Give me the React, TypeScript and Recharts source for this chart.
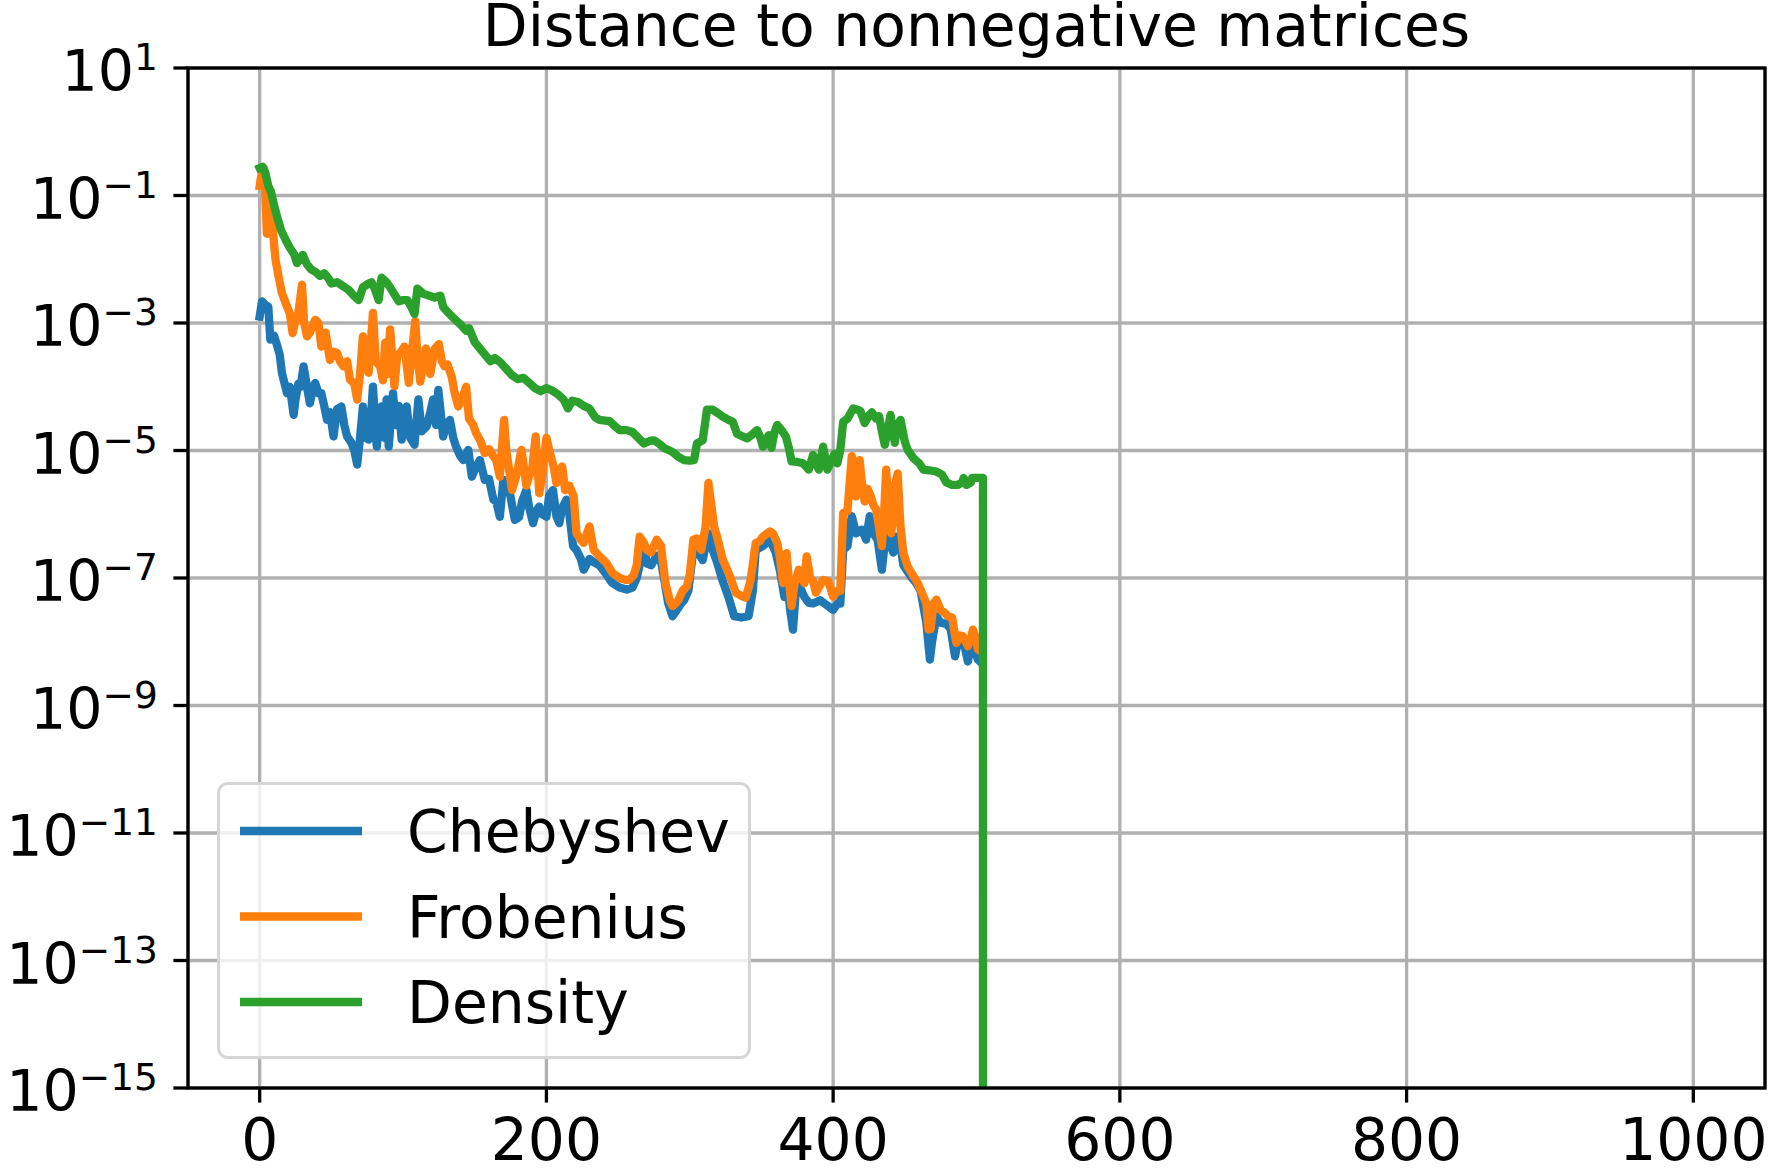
import React from 'react';
import { LineChart, Line, XAxis, YAxis, CartesianGrid } from 'recharts';

const FONT = '"DejaVu Sans", sans-serif';
const TITLE = 'Distance to nonnegative matrices';

const seriesNames = ['Chebyshev', 'Frobenius', 'Density'];
const seriesColors = ['#1f77b4', '#ff7f0e', '#2ca02c'];

const xTicks = [0, 200, 400, 600, 800, 1000];
const yTickExponents = [1, -1, -3, -5, -7, -9, -11, -13, -15];

// [iteration, log10(distance)]
const chebyshevPoints: [number, number][] = [
  [0, -2.9], [1.6, -2.66], [4, -2.72], [6, -2.74], [7.4, -3.26], [10, -3.2], [12, -3.34], [14, -3.5],
  [15.5, -3.78], [19, -4.1], [21, -4.0], [23.7, -4.44], [25, -4.2], [27, -3.95], [28.5, -4.0], [30.6, -3.68],
  [33, -4.0], [35, -4.26], [37, -4.05], [38.7, -3.94], [41, -4.1], [43, -4.1], [45, -4.3], [47, -4.52],
  [49, -4.4], [51.5, -4.78], [54, -4.35], [57, -4.31], [59, -4.6], [61, -4.78], [64, -4.88], [66, -5.0],
  [68, -5.22], [70, -4.8], [72, -4.31], [74, -4.8], [76, -4.83], [77.5, -4.5], [79, -4.0], [81.7, -4.94],
  [83.5, -4.5], [85, -4.31], [87, -4.8], [88.5, -4.2], [90, -4.94], [93, -4.1], [95, -4.6], [97, -4.3],
  [99, -4.83], [101, -4.5], [102.5, -4.31], [105, -4.8], [108, -4.91], [110.7, -4.2], [113, -4.7], [116.5, -4.62],
  [119, -4.4], [121, -4.2], [123, -4.6], [124.6, -4.05], [128, -4.78], [130, -4.6], [132.7, -4.52], [135, -4.8],
  [137, -4.94], [140, -5.09], [142, -5.15], [145.5, -4.99], [148, -5.41], [150, -5.3], [153.6, -5.15], [157, -5.46],
  [160, -5.45], [163, -5.77], [165, -5.8], [167.5, -6.04], [170, -5.46], [172, -5.6], [174.5, -5.67], [178, -6.09],
  [181, -6.04], [183, -5.8], [186, -5.62], [188, -5.9], [190.7, -6.14], [193, -5.95], [195, -5.88], [197, -6.0],
  [200, -6.04], [202, -5.7], [204.6, -5.62], [207, -6.03], [209, -6.14], [211, -5.9], [214, -5.77], [216, -6.0],
  [218.6, -6.5], [221, -6.56], [224, -6.7], [226, -6.87], [230, -6.7], [233, -6.75], [237, -6.8], [242, -6.95],
  [246, -7.08], [251, -7.15], [256, -7.18], [260, -7.15], [263, -7.0], [265, -6.8], [268, -6.5], [270, -6.77],
  [273, -6.8], [277, -6.65], [280, -6.75], [282, -7.0], [285, -7.4], [288, -7.6], [291, -7.5], [294, -7.4],
  [296, -7.35], [299, -7.2], [302.5, -6.56], [306, -6.6], [309, -6.72], [311, -6.5], [313, -6.3], [315, -6.5],
  [319, -6.75], [323, -7.05], [327, -7.3], [331, -7.6], [336, -7.62], [341, -7.6], [344, -7.2], [346, -6.56],
  [351, -6.5], [356, -6.4], [360, -6.6], [363, -6.9], [366, -7.3], [368, -7.0], [370, -7.5], [372, -7.81],
  [374, -7.2], [376, -7.1], [380, -7.3], [383, -7.39], [386, -7.4], [388, -7.38], [391, -7.35], [394, -7.4],
  [397, -7.45], [400, -7.5], [403, -7.4], [405, -7.4], [407, -6.56], [410, -6.5], [413, -6.03], [416, -6.3],
  [420, -6.24], [423, -6.4], [425.5, -6.03], [428, -6.3], [431, -6.4], [434, -6.87], [437, -6.25], [440, -6.5],
  [442, -6.6], [444, -6.35], [447, -6.5], [449, -6.8], [452, -6.9], [455, -7.0], [458, -7.08], [461, -7.2],
  [463, -7.45], [465, -7.7], [467.5, -8.28], [469, -8.0], [472, -7.6], [475, -7.7], [479, -7.72], [482, -7.8],
  [485, -8.23], [487, -8.0], [490.6, -8.05], [492, -8.1], [494, -8.31], [496, -8.05], [497.5, -8.02], [499, -8.15],
  [501, -8.28], [503, -8.32],
];

const frobeniusPoints: [number, number][] = [
  [0, -0.85], [1, -0.7], [3, -0.57], [4, -1.0], [5, -1.6], [7, -1.22], [9, -1.5], [11, -2.0],
  [13, -2.25], [15.5, -2.53], [19, -2.74], [21, -2.85], [23, -3.16], [25, -2.95], [27, -2.84], [29.5, -2.4],
  [31, -3.0], [33, -3.21], [35, -3.15], [38.7, -2.95], [41, -3.0], [43, -3.37], [46, -3.15], [49, -3.58],
  [52, -3.45], [54, -3.47], [56, -3.6], [58.5, -3.68], [61, -3.6], [63, -3.89], [66, -3.95], [68, -4.2],
  [70, -3.8], [72, -3.21], [74, -3.6], [76, -3.78], [79, -2.84], [81, -3.6], [84, -3.68], [86, -3.9],
  [87.5, -3.31], [89, -3.8], [91, -3.1], [94, -3.99], [96, -3.5], [98, -3.47], [101, -3.37], [104, -3.94],
  [106, -3.5], [108.5, -2.97], [110, -3.5], [112, -3.92], [116, -3.4], [119, -3.8], [122, -3.41], [125, -3.33],
  [127, -3.6], [129, -3.68], [131, -3.65], [134, -3.85], [136, -4.1], [138.5, -4.31], [141, -4.2], [144, -4.0],
  [146, -4.5], [149, -4.6], [151, -4.73], [154, -4.85], [157, -5.04], [160, -4.98], [163, -5.09], [165, -5.15],
  [167.5, -5.41], [170.5, -4.52], [172, -5.0], [174, -5.3], [176, -5.62], [179, -5.4], [182.6, -4.99], [184, -5.2],
  [186, -5.55], [188, -5.4], [190, -5.3], [192.5, -4.78], [195, -5.67], [197, -5.4], [200, -4.8], [202, -5.0],
  [205, -5.25], [207, -5.51], [209, -5.41], [211, -5.25], [213, -5.62], [216, -5.55], [219, -5.72], [221, -6.3],
  [224, -6.4], [226, -6.45], [230, -6.19], [233, -6.56], [237, -6.66], [242, -6.77], [246, -6.92], [251, -7.0],
  [255, -7.03], [258, -7.03], [261, -6.95], [263, -6.8], [265, -6.35], [268, -6.45], [270, -6.56], [273, -6.6],
  [275, -6.5], [277, -6.4], [280, -6.5], [281, -6.7], [283, -7.08], [286, -7.35], [288, -7.44], [290, -7.4],
  [292, -7.35], [295, -7.2], [298, -7.13], [300, -6.95], [302.5, -6.4], [305, -6.38], [306, -6.45], [308, -6.56],
  [311, -6.2], [313, -5.51], [315, -5.85], [317, -6.2], [319, -6.35], [323, -6.71], [328, -6.97], [332, -7.23],
  [336, -7.28], [339, -7.31], [342.5, -7.03], [346, -6.45], [349, -6.42], [351, -6.35], [356, -6.27], [358, -6.3],
  [361, -6.45], [363, -6.7], [365, -7.08], [367.5, -6.61], [369, -7.0], [371, -7.44], [373, -7.1], [376, -6.87],
  [378, -7.0], [380, -7.08], [381.5, -6.66], [384, -7.0], [386, -7.05], [388, -7.23], [390, -7.15], [393, -7.03],
  [396.5, -7.05], [398, -7.15], [400, -7.29], [403, -7.2], [405, -7.2], [407, -5.98], [410, -5.95], [413, -5.09],
  [416, -5.72], [418.5, -5.15], [420, -5.5], [422, -5.8], [424, -5.6], [426, -5.7], [428, -5.85], [430, -5.93],
  [432, -6.2], [434, -6.5], [435.5, -6.0], [437, -5.3], [439, -6.0], [440.5, -6.3], [442, -6.0], [443.5, -5.5],
  [445, -5.36], [447, -6.2], [449, -6.61], [452, -6.82], [456, -6.97], [459, -7.08], [463, -7.29], [465, -7.4],
  [466.5, -7.81], [468, -7.8], [470, -7.4], [472, -7.34], [475, -7.5], [478, -7.55], [480, -7.6], [483, -7.62],
  [485, -7.9], [486, -8.02], [488, -7.9], [490.5, -7.91], [494, -8.07], [496, -7.95], [497.5, -7.81], [499, -7.9],
  [501, -8.12], [503, -8.15],
];

// the last point is zero (log -> -inf), drawn as a drop off the bottom of the axes
const densityPoints: [number, number][] = [
  [0, -0.57], [2, -0.55], [4, -0.65], [6, -0.85], [8, -0.95], [10, -1.15], [12, -1.32], [15, -1.55],
  [18, -1.69], [21, -1.82], [24, -1.92], [26, -2.06], [28, -2.0], [30, -1.93], [33, -2.08], [36, -2.16],
  [39, -2.2], [42, -2.26], [45, -2.22], [48, -2.3], [50, -2.38], [54, -2.36], [58, -2.42], [62, -2.48],
  [66, -2.58], [69, -2.64], [72, -2.44], [76, -2.38], [78, -2.36], [80, -2.45], [83, -2.64], [85, -2.29],
  [88, -2.35], [91, -2.44], [94, -2.55], [97, -2.66], [100, -2.64], [103, -2.64], [106, -2.76], [108, -2.86],
  [110, -2.46], [114, -2.54], [118, -2.57], [122, -2.6], [126, -2.57], [128, -2.75], [132, -2.85], [136, -2.94],
  [140, -3.02], [144, -3.12], [146, -3.08], [150, -3.3], [154, -3.41], [158, -3.52], [161, -3.6], [164, -3.55],
  [168, -3.62], [172, -3.72], [176, -3.82], [180, -3.88], [184, -3.86], [188, -3.94], [192, -4.02], [196, -4.07],
  [200, -4.02], [204, -4.06], [208, -4.12], [212, -4.2], [215, -4.34], [218, -4.22], [222, -4.24], [226, -4.3],
  [230, -4.34], [234, -4.48], [237, -4.52], [241, -4.53], [244, -4.54], [248, -4.62], [251, -4.68], [256, -4.68],
  [260, -4.71], [264, -4.8], [268, -4.89], [272, -4.85], [275, -4.84], [279, -4.9], [282, -4.96], [286, -5.0],
  [289, -5.04], [292, -5.1], [296, -5.15], [300, -5.16], [303, -5.15], [305, -4.89], [309, -4.84], [312, -4.36],
  [316, -4.36], [320, -4.42], [323, -4.47], [327, -4.52], [330, -4.55], [333, -4.74], [337, -4.78], [340, -4.81],
  [344, -4.74], [347, -4.68], [349, -4.78], [351, -4.94], [353, -4.88], [355, -4.76], [357, -4.96], [359, -4.72],
  [361, -4.6], [364, -4.68], [367, -4.78], [369, -4.95], [371, -5.17], [375, -5.18], [379, -5.2], [383, -5.3],
  [386, -5.07], [388, -5.2], [390, -5.3], [393, -4.94], [396, -5.3], [398, -5.2], [401, -5.05], [403, -5.2],
  [405, -4.99], [407, -4.55], [410, -4.5], [412, -4.42], [414, -4.34], [417, -4.36], [419, -4.38], [422, -4.57],
  [425, -4.45], [427, -4.4], [430, -4.5], [432, -4.46], [434, -4.7], [436, -4.91], [438, -4.7], [440, -4.44],
  [443, -4.88], [445, -4.6], [447, -4.52], [450, -4.86], [452, -4.99], [456, -5.12], [460, -5.2], [463, -5.3],
  [467, -5.31], [472, -5.33], [476, -5.38], [479, -5.5], [483, -5.54], [487, -5.54], [490, -5.5], [491, -5.43],
  [493, -5.54], [496, -5.5], [497, -5.43], [500, -5.43], [503, -5.43], [504.5, -5.43], [504.6, -40],
];

const allPoints = [chebyshevPoints, frobeniusPoints, densityPoints];

const toRows = (pts: [number, number][]) => pts.map(([x, lg]) => ({ x, y: Math.pow(10, lg) }));

// layout (pixels)
const W = 1768;
const H = 1174;
const PLOT_LEFT = 188;
const PLOT_TOP = 68;
const PLOT_RIGHT = 1765;
const PLOT_BOTTOM = 1088;
const FS = 58.3;
const Y_FS = 57;
const SUP_FS = 37.5;
const THIN = 3.3;
const TICK_LEN = 14.6;

const YTick = (props: any) => {
  const { x, y, payload } = props;
  const e = Math.round(Math.log10(payload.value));
  const sup = (e < 0 ? '\u2212' : '') + Math.abs(e);
  return (
    <text x={x} y={y} dy={23} textAnchor="end" fontSize={Y_FS} fontFamily={FONT} fill="#000">
      10<tspan dy={-21} fontSize={SUP_FS}>{sup}</tspan>
    </text>
  );
};

const XTick = (props: any) => {
  const { x, y, payload } = props;
  return (
    <text x={x} y={y} dy={57.5} textAnchor="middle" fontSize={FS} fontFamily={FONT} fill="#000">
      {payload.value}
    </text>
  );
};

const LegendBox = () => (
  <div
    style={{
      position: 'absolute',
      left: 217,
      top: 782,
      width: 534,
      height: 277,
      boxSizing: 'border-box',
      border: `${THIN}px solid #d6d6d6`,
      borderRadius: 11,
      background: 'rgba(255,255,255,0.8)',
    }}
  >
    <svg width={528} height={271} style={{ position: 'absolute', left: 0, top: 0, overflow: 'visible' }}>
      {seriesNames.map((name, i) => (
        <g key={name}>
          <line x1={20} x2={142} y1={46 + i * 85.5} y2={46 + i * 85.5} stroke={seriesColors[i]} strokeWidth={8.3} />
          <text x={187} y={67 + i * 85.5} fontSize={FS} fontFamily={FONT} fill="#000">
            {name}
          </text>
        </g>
      ))}
    </svg>
  </div>
);

export default function App() {
  return (
    <div style={{ position: 'absolute', left: 0, top: 0, width: W, height: H, background: '#fff' }}>
      <LineChart width={W} height={H} margin={{ top: PLOT_TOP, right: W - PLOT_RIGHT, bottom: 0, left: 0 }}>
        <CartesianGrid stroke="#b0b0b0" strokeWidth={THIN} />
        <XAxis
          dataKey="x"
          type="number"
          domain={[-50, 1050]}
          ticks={xTicks}
          interval={0}
          height={H - PLOT_BOTTOM}
          axisLine={false}
          tickLine={{ stroke: '#000', strokeWidth: THIN }}
          tickSize={TICK_LEN}
          tickMargin={0}
          tick={<XTick />}
          allowDataOverflow
        />
        <YAxis
          type="number"
          scale="log"
          domain={[1e-15, 10]}
          ticks={yTickExponents.map((e) => Math.pow(10, e))}
          interval={0}
          width={PLOT_LEFT}
          axisLine={false}
          tickLine={{ stroke: '#000', strokeWidth: THIN }}
          tickSize={TICK_LEN}
          tickMargin={15.5}
          tick={<YTick />}
          allowDataOverflow
        />
        {allPoints.map((pts, i) => (
          <Line
            key={seriesNames[i]}
            data={toRows(pts)}
            dataKey="y"
            name={seriesNames[i]}
            type="linear"
            stroke={seriesColors[i]}
            strokeWidth={8.3}
            strokeLinejoin="round"
            strokeLinecap="square"
            dot={false}
            isAnimationActive={false}
          />
        ))}
      </LineChart>
      <svg width={W} height={H} style={{ position: 'absolute', left: 0, top: 0, pointerEvents: 'none' }}>
        <text x={(PLOT_LEFT + PLOT_RIGHT) / 2} y={46} textAnchor="middle" fontSize={FS} fontFamily={FONT} fill="#000">
          {TITLE}
        </text>
        <rect
          x={PLOT_LEFT}
          y={PLOT_TOP}
          width={PLOT_RIGHT - PLOT_LEFT}
          height={PLOT_BOTTOM - PLOT_TOP}
          fill="none"
          stroke="#000"
          strokeWidth={THIN}
        />
      </svg>
      <LegendBox />
    </div>
  );
}
